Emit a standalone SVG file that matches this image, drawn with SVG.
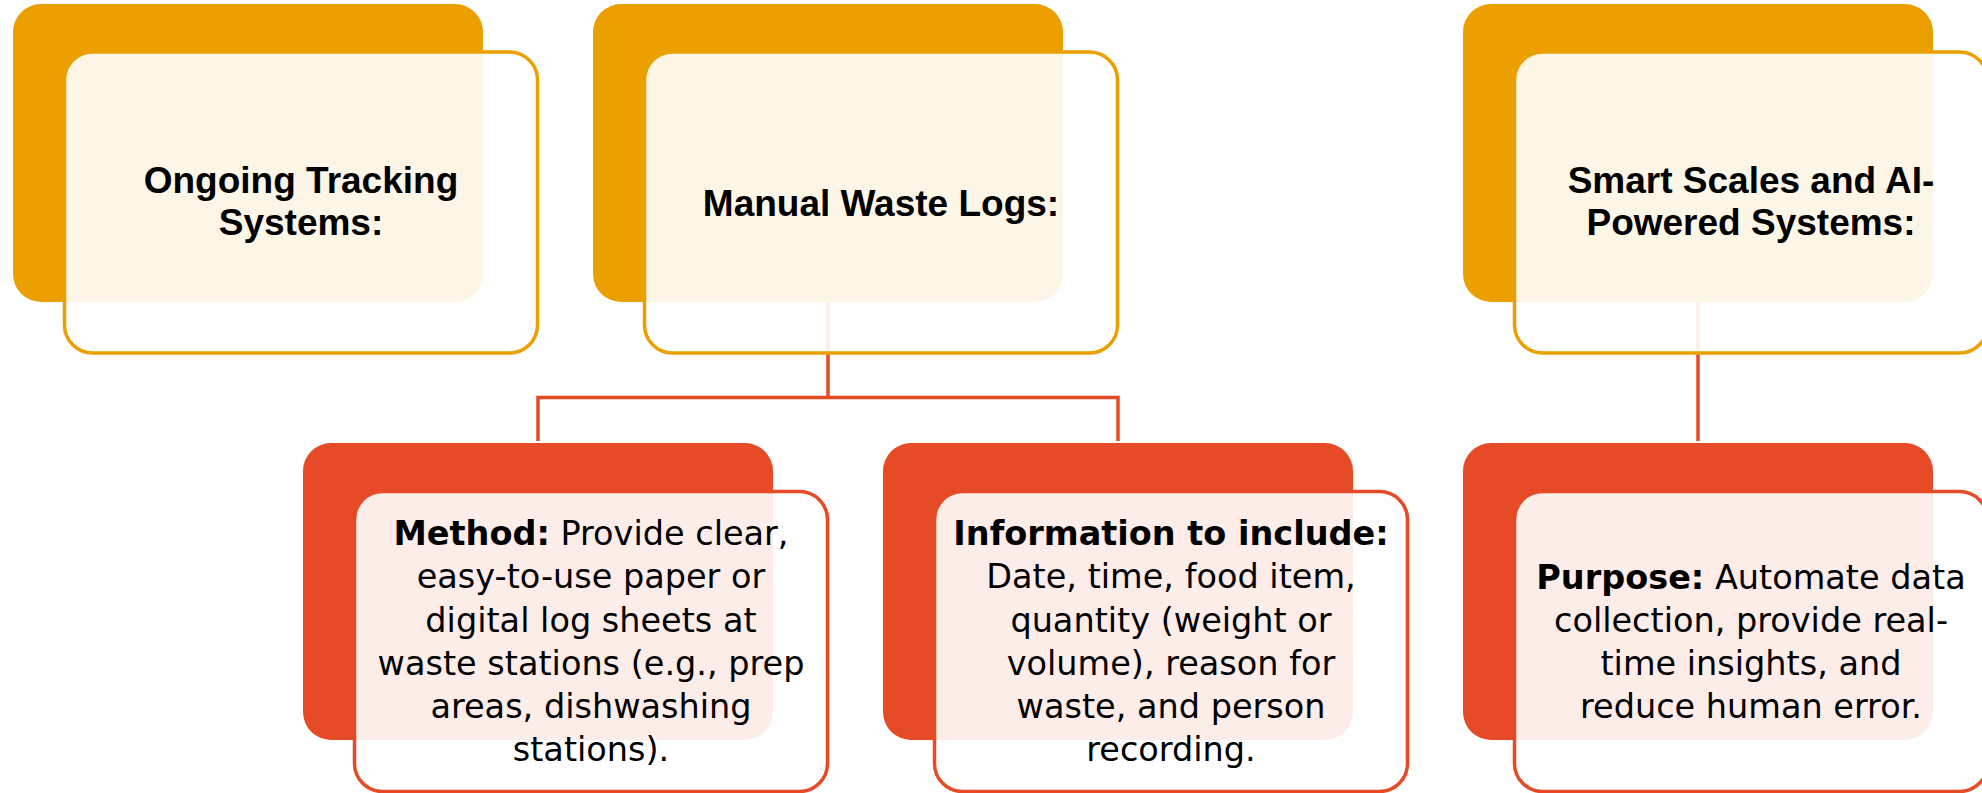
<svg xmlns="http://www.w3.org/2000/svg" width="1982" height="793" viewBox="0 0 1982 793">
<style>
.bo{fill:#EBA000}
.br{fill:#E64A26}
.fo{fill:#FFFFFF;fill-opacity:0.9;stroke:#EBA000;stroke-width:3.5}
.fr{fill:#FFFFFF;fill-opacity:0.9;stroke:#E64A26;stroke-width:3.5}
.t{font-family:"Liberation Sans",Arial,sans-serif;font-weight:bold;font-size:37px;fill:#000;text-anchor:middle}
.b{font-family:"DejaVu Sans",sans-serif;font-size:33.5px;fill:#000;text-anchor:middle}
.bb{font-weight:bold}
.c{fill:none;stroke:#E64A26;stroke-width:3.5}
</style>
<rect width="1982" height="793" fill="#FFFFFF"/>
<g id="connectors">
<path class="c" d="M828 302 V397.5"/>
<path class="c" d="M538 441 V397.5 H1118 V441"/>
<path class="c" d="M1698 302 V441"/>
</g>
<g id="node-ongoing">
<rect class="bo" x="13" y="4" width="470" height="298" rx="28"/>
<rect class="fo" x="64.5" y="52" width="473" height="301" rx="28"/>
<text class="t" x="301" y="193">Ongoing Tracking</text>
<text class="t" x="301" y="235">Systems:</text>
</g>
<g id="node-manual">
<rect class="bo" x="593" y="4" width="470" height="298" rx="28"/>
<rect class="fo" x="644.5" y="52" width="473" height="301" rx="28"/>
<text class="t" x="881" y="216">Manual Waste Logs:</text>
</g>
<g id="node-smart">
<rect class="bo" x="1463" y="4" width="470" height="298" rx="28"/>
<rect class="fo" x="1514.5" y="52" width="473" height="301" rx="28"/>
<text class="t" x="1751" y="193">Smart Scales and AI-</text>
<text class="t" x="1751" y="235">Powered Systems:</text>
</g>
<g id="node-method">
<rect class="br" x="303" y="443" width="470" height="297" rx="28"/>
<rect class="fr" x="354.5" y="491.5" width="473" height="300" rx="28"/>
<text class="b" x="591" y="545"><tspan class="bb">Method:</tspan> Provide clear,</text>
<text class="b" x="591" y="588">easy-to-use paper or</text>
<text class="b" x="591" y="631.5">digital log sheets at</text>
<text class="b" x="591" y="675">waste stations (e.g., prep</text>
<text class="b" x="591" y="718">areas, dishwashing</text>
<text class="b" x="591" y="761">stations).</text>
</g>
<g id="node-info">
<rect class="br" x="883" y="443" width="470" height="297" rx="28"/>
<rect class="fr" x="934.5" y="491.5" width="473" height="300" rx="28"/>
<text class="b" x="1171" y="545"><tspan class="bb">Information to include:</tspan></text>
<text class="b" x="1171" y="588">Date, time, food item,</text>
<text class="b" x="1171" y="631.5">quantity (weight or</text>
<text class="b" x="1171" y="675">volume), reason for</text>
<text class="b" x="1171" y="718">waste, and person</text>
<text class="b" x="1171" y="761">recording.</text>
</g>
<g id="node-purpose">
<rect class="br" x="1463" y="443" width="470" height="297" rx="28"/>
<rect class="fr" x="1514.5" y="491.5" width="473" height="300" rx="28"/>
<text class="b" x="1751" y="589"><tspan class="bb">Purpose:</tspan> Automate data</text>
<text class="b" x="1751" y="632">collection, provide real-</text>
<text class="b" x="1751" y="675">time insights, and</text>
<text class="b" x="1751" y="718">reduce human error.</text>
</g>
</svg>
